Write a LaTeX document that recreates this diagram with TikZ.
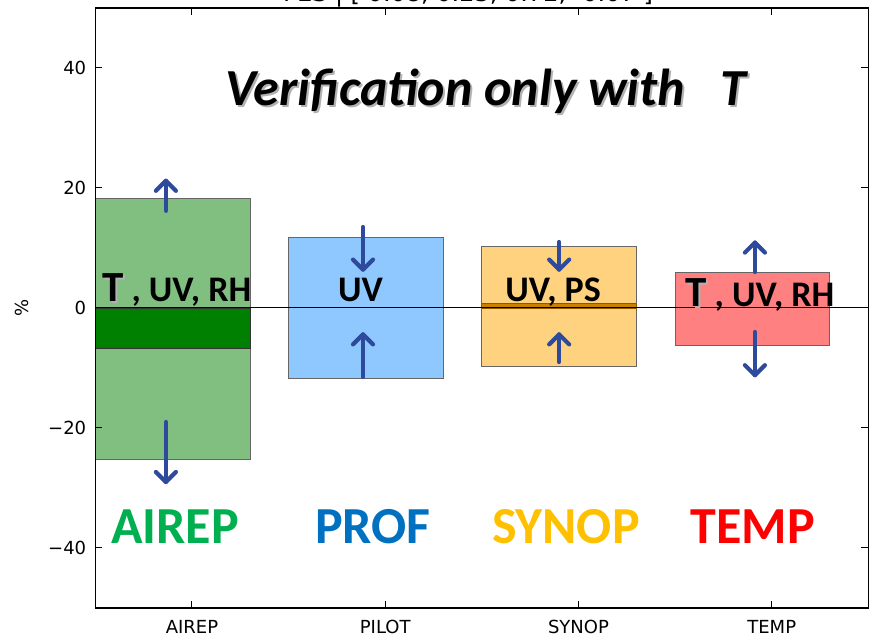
\documentclass[tikz,border=0pt]{standalone}
\usepackage{fontspec}
\setmainfont{DejaVu Sans}
\newfontfamily\calib{Carlito}
\usepackage{xcolor}
\usepackage{tikz}

\definecolor{airlight}{HTML}{80BF80}
\definecolor{airdark}{HTML}{008000}
\definecolor{pillight}{HTML}{8FC7FF}
\definecolor{synlight}{HTML}{FFD280}
\definecolor{syndark}{HTML}{C97F00}
\definecolor{tmplight}{HTML}{FF8080}
\definecolor{shiftblue}{HTML}{2E4A9C}
\definecolor{airtxt}{HTML}{00B050}
\definecolor{proftxt}{HTML}{0070C0}
\definecolor{syntxt}{HTML}{FFC000}
\definecolor{tmptxt}{HTML}{FF0000}
\newcommand{\shad}[1]{\makebox[0pt][l]{\hspace{2pt}\raisebox{-2pt}{\textcolor{black!30}{#1}}}#1}
\newcommand{\bigTfont}{\fontsize{43}{45}\selectfont}

\begin{document}
\begin{tikzpicture}[x=193.25pt, y=6pt,
  bar/.style={draw=black!60, line width=0.8pt},
  shiftarrow/.style={draw=shiftblue, line width=4.2pt, line cap=round, line join=round},
  ticklab/.style={font=\fontsize{18}{20}\selectfont, inner sep=0pt},
  obs/.style={font=\calib\bfseries\fontsize{36}{38}\selectfont, inner sep=0pt, anchor=base west},
  family/.style={font=\calib\bfseries\fontsize{52}{54}\selectfont, inner sep=0pt, anchor=base}]
\useasboundingbox (-0.9935,-54.833) rectangle (3.5292,51.333);
\clip (-0.9935,-54.833) rectangle (3.5292,51.333);
\node[ticklab, font=\fontsize{24}{26}\selectfont, anchor=base west] (fig title) at (0.471,51.0) {FES | [ 0.08, 0.23, 0.72, -0.07 ]};
\foreach \i/\lo/\hi/\col in {0/-25.3/18.3/airlight, 1/-11.8/11.8/pillight, 2/-9.8/10.2/synlight, 3/-6.2/6.0/tmplight}
  \draw[bar, fill=\col] (\i-0.5,\lo) rectangle (\i+0.3,\hi);
\draw[bar, draw=black!80, fill=airdark] (-0.5,0) rectangle (0.3,-6.8);
\draw[bar, draw=syndark!70!black, fill=syndark] (1.5,0) rectangle (2.3,0.7);
\draw[line width=1pt] (-0.5,0) -- (3.5,0);
\foreach \x/\from/\to in {-0.135/16.2/21.2, -0.135/-19/-29, 0.885/13.5/6.4, 0.885/-11.5/-4.4,
    1.9/11/6.4, 1.9/-9/-4.4, 2.913/6/10.9, 2.913/-4/-11.2} {
  \pgfmathsetmacro\s{(\to>\from)*2-1}
  \draw[shiftarrow] (\x,\from) -- (\x,\to);
  \draw[shiftarrow] ([shift={(-10pt,-10pt*\s)}]\x,\to) -- (\x,\to) -- ([shift={(10pt,-10pt*\s)}]\x,\to);
}
\node[font=\calib\bfseries\itshape\fontsize{52}{54}\selectfont, anchor=base] (headline) at (1.521,33.67) {\shad{Verification only with\ \ \ T}};
\node[obs] (air vars) at (-0.466,1.0) {{\bigTfont\shad{T}} , UV, RH};
\node[obs] (pil vars) at (0.755,1.0) {UV};
\node[obs] (syn vars) at (1.62,1.0) {UV, PS};
\node[obs] (tmp vars) at (2.551,0.17) {{\bigTfont\shad{T}} , UV, RH};
\node[family, text=airtxt] (airep) at (-0.088,-39.17) {AIREP};
\node[family, text=proftxt] (prof) at (0.937,-39.17) {PROF};
\node[family, text=syntxt] (synop) at (1.935,-39.17) {SYNOP};
\node[family, text=tmptxt] (temp) at (2.903,-39.17) {TEMP};
\draw[line width=1.5pt] (-0.5,-50) rectangle (3.5,50);
\foreach \v/\t in {-40/−40, -20/−20, 0/0, 20/20, 40/40} {
  \draw[line width=1pt] (-0.5,\v) -- ++(7pt,0) (3.5,\v) -- ++(-7pt,0);
  \node[ticklab, anchor=east] (y\v) at ([xshift=-9pt]-0.5,\v) {\t};
}
\foreach \i/\n in {0/AIREP, 1/PILOT, 2/SYNOP, 3/TEMP} {
  \draw[line width=1pt] (\i,-50) -- ++(0,7pt) (\i,50) -- ++(0,-7pt);
  \node[ticklab, anchor=base] (x\i) at ([yshift=-25.5pt]\i,-50) {\n};
}
\node[ticklab, rotate=90] (ylab) at (-0.88,0) {\%};
\end{tikzpicture}
\end{document}
